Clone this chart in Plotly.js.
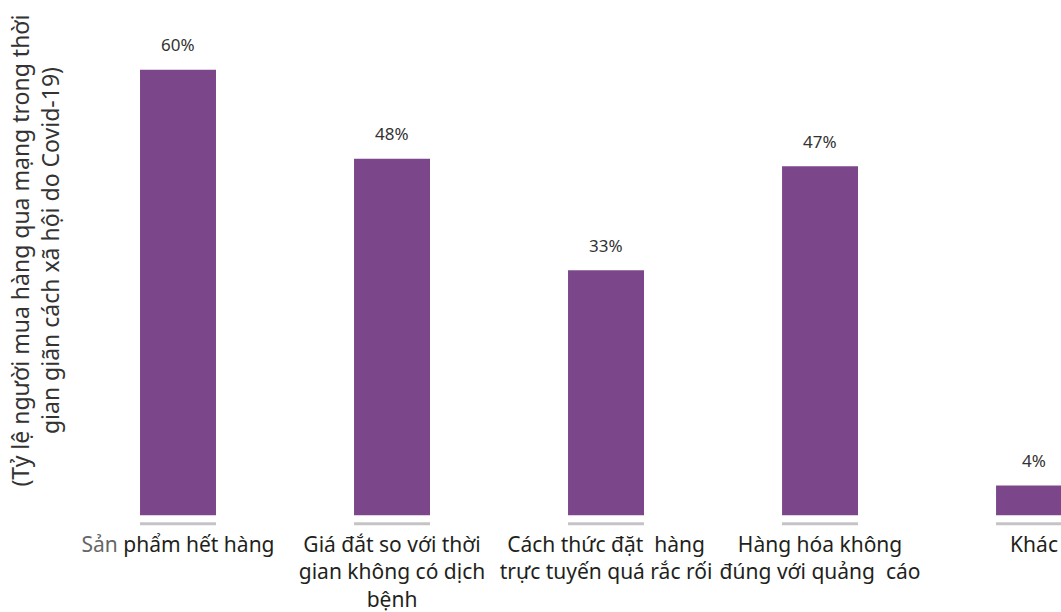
<!DOCTYPE html>
<html>
<head>
<meta charset="utf-8">
<script src="https://cdn.plot.ly/plotly-3.0.1.min.js"></script>
<style>html,body{margin:0;padding:0;background:#fff;}#chart{width:1061px;height:612px;}</style>
</head>
<body>
<div id="chart"></div>
<script>
const categories = ["Sản phẩm hết hàng", "Giá đắt so với thời gian không có dịch bệnh", "Cách thức đặt hàng trực tuyến quá rắc rối", "Hàng hóa không đúng với quảng cáo", "Khác"];
const tickLabels = ["<span style=\"color:#666\">Sản</span> phẩm hết hàng", "Giá đắt so với thời<br>gian không có dịch<br>bệnh", "Cách thức đặt  hàng<br>trực tuyến quá rắc rối", "Hàng hóa không<br>đúng với quảng  cáo", "Khác"];
const values = [60, 48, 33, 47, 4];
const yTitle = "(Tỷ lệ người mua hàng qua mạng trong thời<br>gian giãn cách xã hội do Covid-19)";

const xs = categories.map((c, i) => i);
const font = "'Noto Sans', 'Open Sans', sans-serif";

const bars = {
  type: "bar", x: xs, y: values, width: 0.355,
  marker: {color: "#7c478a"}, hoverinfo: "skip"
};
const underline = {
  type: "bar", x: xs, y: xs.map(() => 0.4), base: xs.map(() => -1.35), width: 0.355,
  marker: {color: "#c4c4c4"}, hoverinfo: "skip"
};

const annotations = values.map((v, i) => ({
  x: i, y: v, xref: "x", yref: "y", text: v + "%", showarrow: false,
  yshift: 25, font: {family: font, size: 17, color: "#333"}
}));
annotations.push({
  xref: "paper", yref: "paper", x: -0.036, y: 0.571, xanchor: "center", yanchor: "middle",
  text: yTitle, textangle: -90, showarrow: false,
  font: {family: font, size: 23, color: "#333"}
});

const layout = {
  width: 1061, height: 612,
  margin: {l: 71, r: 0, t: 40, b: 82},
  paper_bgcolor: "#fff", plot_bgcolor: "#fff",
  barmode: "overlay", showlegend: false,
  xaxis: {
    range: [-0.5, 4.126], tickmode: "array", tickvals: xs, ticktext: tickLabels,
    showgrid: false, zeroline: false, showline: false, ticks: "",
    tickfont: {family: font, size: 21, color: "#231f20"}
  },
  yaxis: {
    range: [-2, 64], showgrid: false, zeroline: false, showline: false,
    showticklabels: false, ticks: ""
  },
  annotations: annotations
};

Plotly.newPlot("chart", [bars, underline], layout, {displayModeBar: false, staticPlot: true});
</script>
</body>
</html>
